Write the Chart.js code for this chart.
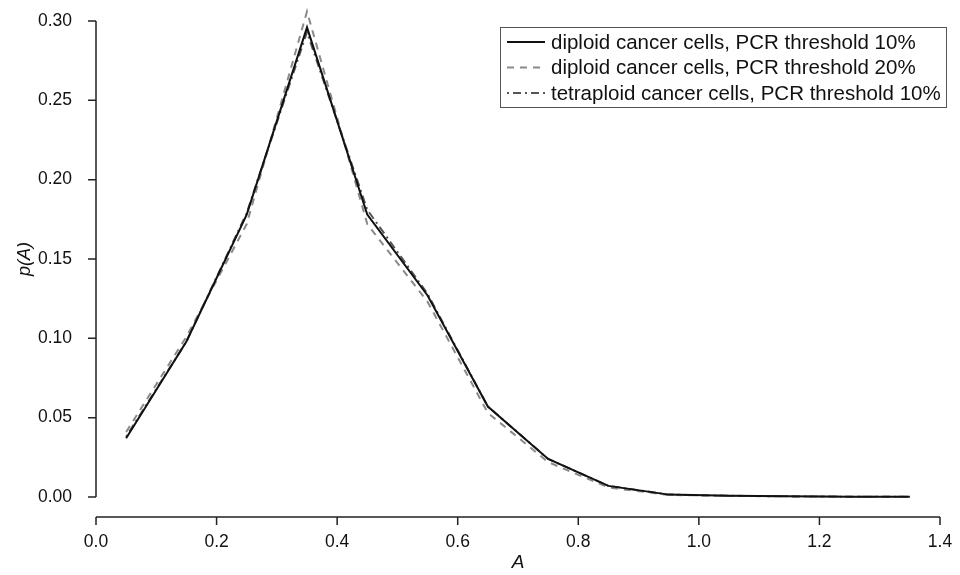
<!DOCTYPE html>
<html>
<head>
<meta charset="utf-8">
<script src="https://cdn.jsdelivr.net/npm/chart.js@4.4.1/dist/chart.umd.min.js"></script>
<style>
  html, body { margin: 0; padding: 0; background: #fff; }
  #wrap { width: 960px; height: 575px; }
</style>
</head>
<body>
<div id="wrap"><canvas id="chart" width="960" height="575"></canvas></div>
<script>
// data
const aValues = [0.05, 0.15, 0.25, 0.35, 0.45, 0.55, 0.65, 0.75, 0.85, 0.95, 1.05, 1.15, 1.25, 1.35];
const diploid10 = [0.037, 0.098, 0.178, 0.296, 0.178, 0.127, 0.057, 0.024, 0.007, 0.0015, 0.0008, 0.0004, 0.0002, 0.0001];
const diploid20 = [0.041, 0.101, 0.172, 0.306, 0.172, 0.123, 0.053, 0.022, 0.006, 0.0013, 0.0007, 0.0004, 0.0002, 0.0001];
const tetraploid10 = [0.038, 0.098, 0.179, 0.293, 0.181, 0.128, 0.057, 0.024, 0.007, 0.0015, 0.0008, 0.0004, 0.0002, 0.0001];
const seriesLabels = [
  'diploid cancer cells, PCR threshold 10%',
  'diploid cancer cells, PCR threshold 20%',
  'tetraploid cancer cells, PCR threshold 10%'
];
const xTicks = [0.0, 0.2, 0.4, 0.6, 0.8, 1.0, 1.2, 1.4];
const yTicks = [0.00, 0.05, 0.10, 0.15, 0.20, 0.25, 0.30];

const FONT = 'Liberation Sans, Arial, Helvetica, sans-serif';

function toPoints(ys) {
  return aValues.map((a, i) => ({ x: a, y: ys[i] }));
}

// scales keep a fixed size and no extra label padding
function noPad(scale) {
  scale.paddingLeft = 0;
  scale.paddingRight = 0;
  scale.paddingTop = 0;
  scale.paddingBottom = 0;
}

// R-style detached axes
const axesPlugin = {
  id: 'rAxes',
  afterDraw(chart) {
    const ctx = chart.ctx;
    const xs = chart.scales.x, ys = chart.scales.y;
    const area = chart.chartArea;
    ctx.save();
    ctx.strokeStyle = '#222';
    ctx.lineWidth = 1.5;
    // y axis
    const yx = area.left;
    ctx.beginPath();
    ctx.moveTo(yx, ys.getPixelForValue(yTicks[0]));
    ctx.lineTo(yx, ys.getPixelForValue(yTicks[yTicks.length - 1]));
    yTicks.forEach(v => {
      const p = ys.getPixelForValue(v);
      ctx.moveTo(yx, p);
      ctx.lineTo(yx - 8, p);
    });
    ctx.stroke();
    // x axis, 20px below the plot
    const xy = area.bottom + 20;
    ctx.beginPath();
    ctx.moveTo(xs.getPixelForValue(xTicks[0]), xy);
    ctx.lineTo(xs.getPixelForValue(xTicks[xTicks.length - 1]), xy);
    xTicks.forEach(v => {
      const p = xs.getPixelForValue(v);
      ctx.moveTo(p, xy);
      ctx.lineTo(p, xy + 8);
    });
    ctx.stroke();
    ctx.restore();
  }
};

// boxed legend in the top right
const legendPlugin = {
  id: 'boxLegend',
  afterDraw(chart) {
    const ctx = chart.ctx;
    const left = 500, top = 27, right = 946, bottom = 107;
    ctx.save();
    ctx.fillStyle = '#fff';
    ctx.fillRect(left, top, right - left, bottom - top);
    ctx.strokeStyle = '#555';
    ctx.lineWidth = 1;
    ctx.strokeRect(left + 0.5, top + 0.5, right - left, bottom - top);
    ctx.font = '20.5px ' + FONT;
    ctx.textBaseline = 'middle';
    chart.data.datasets.forEach((ds, i) => {
      const y = 42 + i * 25.5;
      ctx.beginPath();
      ctx.strokeStyle = ds.borderColor;
      ctx.lineWidth = ds.borderWidth;
      ctx.setLineDash(ds.borderDash || []);
      ctx.moveTo(507, y);
      ctx.lineTo(545, y);
      ctx.stroke();
      ctx.setLineDash([]);
      ctx.fillStyle = '#111';
      ctx.fillText(ds.label, 551, y + 1);
    });
    ctx.restore();
  }
};

const ctx = document.getElementById('chart').getContext('2d');
new Chart(ctx, {
  type: 'line',
  data: {
    datasets: [
      {
        label: seriesLabels[0],
        data: toPoints(diploid10),
        borderColor: '#111',
        borderWidth: 2,
        borderDash: []
      },
      {
        label: seriesLabels[1],
        data: toPoints(diploid20),
        borderColor: '#8a8a8a',
        borderWidth: 2,
        borderDash: [7, 6]
      },
      {
        label: seriesLabels[2],
        data: toPoints(tetraploid10),
        borderColor: '#555',
        borderWidth: 2,
        borderDash: [2, 4, 8, 4]
      }
    ]
  },
  options: {
    responsive: false,
    animation: false,
    clip: false,
    layout: { padding: { top: 21, right: 20, left: 0, bottom: 0 } },
    elements: {
      line: { tension: 0, fill: false },
      point: { radius: 0 }
    },
    plugins: {
      legend: { display: false },
      tooltip: { enabled: false }
    },
    scales: {
      x: {
        type: 'linear',
        min: 0,
        max: 1.4,
        afterFit(scale) { scale.height = 78; noPad(scale); },
        afterBuildTicks(scale) { scale.ticks = xTicks.map(v => ({ value: v })); },
        grid: { display: false, drawTicks: false },
        border: { display: false },
        ticks: {
          padding: 35,
          color: '#111',
          maxRotation: 0,
          font: { family: FONT, size: 17.5 },
          callback: v => v.toFixed(1)
        },
        title: {
          display: true,
          text: 'A',
          color: '#111',
          font: { family: FONT, size: 19, style: 'italic' },
          padding: { top: 0, bottom: 1 }
        }
      },
      y: {
        min: 0,
        max: 0.30,
        afterFit(scale) { scale.width = 96; noPad(scale); },
        afterBuildTicks(scale) { scale.ticks = yTicks.map(v => ({ value: v })); },
        grid: { display: false, drawTicks: false },
        border: { display: false },
        ticks: {
          padding: 24,
          color: '#111',
          font: { family: FONT, size: 17.5 },
          callback: v => v.toFixed(2)
        },
        title: {
          display: true,
          text: 'p(A)',
          color: '#111',
          font: { family: FONT, size: 18, style: 'italic' },
          padding: { top: 14, bottom: 0 }
        }
      }
    }
  },
  plugins: [axesPlugin, legendPlugin]
});
</script>
</body>
</html>
